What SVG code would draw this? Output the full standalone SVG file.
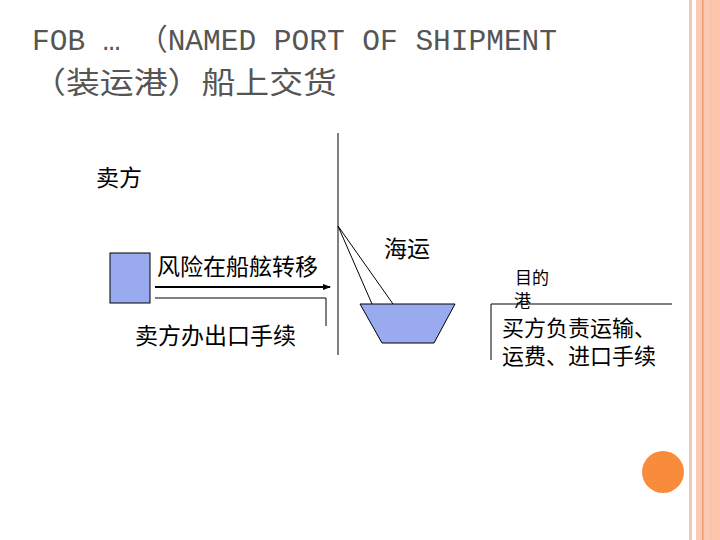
<svg xmlns="http://www.w3.org/2000/svg" width="720" height="540" viewBox="0 0 720 540">
<style>
.t{font-family:"Liberation Mono","Noto Sans CJK SC",monospace;font-size:30px;fill:#555}
.c{font-family:"Noto Sans CJK SC",sans-serif;fill:#000}
.ln{stroke:#000;stroke-width:1;fill:none}
.blue{fill:#99aaee;stroke:#000;stroke-width:1}
</style>
<defs><marker id="ah" markerWidth="8" markerHeight="8" refX="7" refY="4" orient="auto" markerUnits="userSpaceOnUse"><path d="M0,1 L8,4 L0,7z" fill="#000"/></marker></defs>
<rect width="720" height="540" fill="#fff"/>
<rect x="689" y="0" width="3" height="540" fill="#f0c8be"/>
<rect x="696" y="0" width="24" height="540" fill="#fcc9b3"/>
<rect x="702" y="0" width="1.5" height="540" fill="#e89a70"/>
<rect x="709" y="0" width="11" height="540" fill="#fdc4ac"/>
<circle cx="663" cy="472" r="21" fill="#f98c3c"/>
<text class="t" x="32" y="50" textLength="525" lengthAdjust="spacingAndGlyphs">FOB … （NAMED PORT OF SHIPMENT</text>
<text class="t" x="32" y="93" textLength="305" lengthAdjust="spacingAndGlyphs">（装运港）船上交货</text>
<g id="connectors">
<line class="ln" x1="338" y1="133" x2="338" y2="355"/>
<line x1="155" y1="287" x2="330" y2="287" stroke="#000" stroke-width="2" marker-end="url(#ah)"/>
<polyline class="ln" points="155,298 326,298 326,326"/>
<line class="ln" x1="338" y1="226" x2="372" y2="304"/>
<line class="ln" x1="338" y1="226" x2="393" y2="304"/>
<polyline class="ln" points="491,360 491,304 672,304"/>
</g>
<g id="seller"><text class="c" x="96" y="186" font-size="23">卖方</text></g>
<g id="box"><rect class="blue" x="110" y="253" width="40" height="50"/></g>
<g id="risk"><text class="c" x="157" y="275" font-size="23">风险在船舷转移</text></g>
<g id="export"><text class="c" x="135" y="344" font-size="23">卖方办出口手续</text></g>
<g id="ship"><polygon class="blue" points="360,304 455,304 434,343 382,343"/></g>
<g id="sea"><text class="c" x="384" y="257" font-size="23">海运</text></g>
<g id="port"><text class="c" x="515" y="284" font-size="17">目的</text><text class="c" x="514" y="307" font-size="17">港</text></g>
<g id="buyer"><text class="c" x="502" y="336" font-size="22">买方负责运输、</text><text class="c" x="502" y="364" font-size="22">运费、进口手续</text></g>
</svg>
